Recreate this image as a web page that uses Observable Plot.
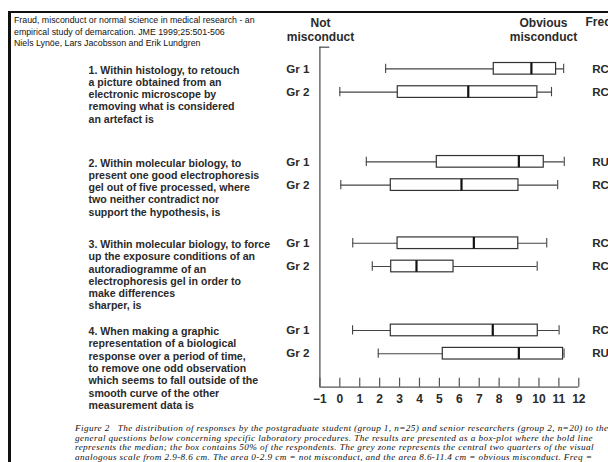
<!DOCTYPE html>
<html>
<head>
<meta charset="utf-8">
<script src="https://cdn.jsdelivr.net/npm/d3@7"></script>
<script src="https://cdn.jsdelivr.net/npm/@observablehq/plot@0.6"></script>
<style>
  html, body { margin: 0; padding: 0; background: #fff; }
  #page { position: relative; width: 608px; height: 462px; overflow: hidden; background: #fff; }
  #topline { position: absolute; left: 9px; top: 11px; width: 600px; height: 2px; background: #111; }
  #leftbar { position: absolute; left: 8px; top: 11px; width: 3px; height: 460px; background: #111; }
  #header { position: absolute; left: 14px; top: 15px; font-family: "Liberation Sans", Arial, sans-serif; font-size: 8.8px; line-height: 11.7px; color: #111; white-space: nowrap; }
  #chart { position: absolute; left: 0; top: 0; }
  #caption { position: absolute; left: 75px; top: 424px; width: 620px; font-family: "Liberation Serif", "Times New Roman", serif; font-style: italic; font-size: 9.2px; line-height: 9.5px; letter-spacing: 0.4px; color: #111; white-space: nowrap; }
</style>
</head>
<body>
<div id="page">
  <div id="topline"></div>
  <div id="leftbar"></div>
  <div id="header">Fraud, misconduct or normal science in medical research - an<br>empirical study of demarcation. JME 1999;25:501-506<br>Niels Lynöe, Lars Jacobsson and Erik Lundgren</div>
  <div id="chart"></div>
  <div id="caption">Figure 2&nbsp;&nbsp;&nbsp;The distribution of responses by the postgraduate student (group 1, n=25) and senior researchers (group 2, n=20) to the<br>general questions below concerning specific laboratory procedures. The results are presented as a box-plot where the bold line<br>represents the median; the box contains 50% of the respondents. The grey zone represents the central two quarters of the visual<br>analogous scale from 2.9-8.6 cm. The area 0-2.9 cm = not misconduct, and the area 8.6-11.4 cm = obvious misconduct. Freq =<br>frequency; RC = rather common and RU = rather uncommon.</div>
</div>
<script>
// ---------- data ----------
const questionNumbers = [1, 2, 3, 4];
const questionTexts = [
  "1. Within histology, to retouch\na picture obtained from an\nelectronic microscope by\nremoving what is considered\nan artefact is",
  "2. Within molecular biology, to\npresent one good electrophoresis\ngel out of five processed, where\ntwo neither contradict nor\nsupport the hypothesis, is",
  "3. Within molecular biology, to force\nup the exposure conditions of an\nautoradiogramme of an\nelectrophoresis gel in order to\nmake differences\nsharper, is",
  "4. When making a graphic\nrepresentation of a biological\nresponse over a period of time,\nto remove one odd observation\nwhich seems to fall outside of the\nsmooth curve of the other\nmeasurement data is"
];
const rowQuestion = [1, 1, 2, 2, 3, 3, 4, 4];
const rowGroup = ["Gr 1", "Gr 2", "Gr 1", "Gr 2", "Gr 1", "Gr 2", "Gr 1", "Gr 2"];
const whiskerLow  = [2.3, 0.0, 1.33, 0.05, 0.65, 1.63, 0.64, 1.93];
const quartile1   = [7.73, 2.91, 4.87, 2.56, 2.90, 2.58, 2.56, 5.17];
const medians     = [9.62, 6.45, 8.99, 6.11, 6.73, 3.85, 7.68, 8.99];
const quartile3   = [10.86, 9.92, 10.24, 8.97, 8.96, 5.71, 9.94, 11.21];
const whiskerHigh = [11.24, 10.63, 11.27, 10.94, 10.39, 9.91, 11.01, 11.26];
const frequency   = ["RC", "RC", "RU", "RC", "RC", "RC", "RC", "RU"];
const xTickValues = [-1, 0, 1, 2, 3, 4, 5, 6, 7, 8, 9, 10, 11, 12];

// ---------- layout (not data) ----------
const questionRow = {1: 0, 2: 4, 3: 7.5, 4: 11.25}; // vertical row units per question block
const yDomain = [-0.93, 13.69];
const rowOf = (q, g) => questionRow[q] + (g === "Gr 2" ? 1 : 0);

const rows = rowQuestion.map((q, i) => ({
  q, g: rowGroup[i], r: rowOf(q, rowGroup[i]),
  lo: whiskerLow[i], q1: quartile1[i], med: medians[i], q3: quartile3[i], hi: whiskerHigh[i],
  freq: frequency[i]
}));
const qs = questionNumbers.map((q, i) => ({q, text: questionTexts[i], r: questionRow[q]}));

const FONT = "Liberation Sans, Arial, sans-serif";
const ink = "#2a2a2a";

const chart = Plot.plot({
  width: 608,
  height: 415,
  marginTop: 46.7,
  marginBottom: 28.3,
  marginLeft: 319.4,
  marginRight: 29.7,
  style: {fontFamily: FONT, background: "transparent", overflow: "visible"},
  x: {domain: [-1, 12]},
  y: {domain: yDomain, reverse: true, axis: null},
  marks: [
    // axes lines
    Plot.ruleX([-1], {stroke: "#555", strokeWidth: 1.3}),
    Plot.ruleY([yDomain[1]], {x1: -1, x2: 12, stroke: "#555", strokeWidth: 1.3}),
    Plot.ruleY([yDomain[0]], {x1: -1, x2: -0.5, stroke: "#555", strokeWidth: 1.3}),
    Plot.axisX({
      ticks: xTickValues,
      tickSize: -9,
      tickPadding: 16,
      tickFormat: d => d < 0 ? "\u2212" + Math.abs(d) : String(d),
      label: null,
      fontSize: 12,
      fontWeight: "bold",
      fill: ink,
      stroke: "#555",
      strokeWidth: 1.2
    }),
    // whiskers
    Plot.ruleY(rows, {y: "r", x1: "lo", x2: "hi", stroke: "#444", strokeWidth: 1.1}),
    Plot.ruleX(rows, {x: "lo", y1: d => d.r - 0.2, y2: d => d.r + 0.2, stroke: "#444", strokeWidth: 1.1}),
    Plot.ruleX(rows, {x: "hi", y1: d => d.r - 0.2, y2: d => d.r + 0.2, stroke: "#444", strokeWidth: 1.1}),
    // boxes
    Plot.rect(rows, {x1: "q1", x2: "q3", y1: d => d.r - 0.25, y2: d => d.r + 0.25, fill: "white", stroke: "#333", strokeWidth: 1.2}),
    // medians
    Plot.ruleX(rows, {x: "med", y1: d => d.r - 0.25, y2: d => d.r + 0.25, stroke: "#111", strokeWidth: 2.2}),
    // group labels
    Plot.text(rows, {y: "r", text: "g", frameAnchor: "left", textAnchor: "end", dx: -10.4, lineAnchor: "middle", fontSize: 11.6, fontWeight: "bold", fill: ink}),
    // frequency labels
    Plot.text(rows, {y: "r", text: "freq", frameAnchor: "right", textAnchor: "start", dx: 13.4, lineAnchor: "middle", fontSize: 11.6, fontWeight: "bold", fill: ink}),
    // question texts
    Plot.text(qs, {y: "r", text: "text", frameAnchor: "left", textAnchor: "start", dx: -231.4, dy: -4, lineAnchor: "top", lineHeight: 1.16, fontSize: 10.6, fontWeight: "bold", fill: ink}),
    // headers
    Plot.text(["Not\nmisconduct"], {frameAnchor: "top-left", textAnchor: "middle", dx: 0.6, dy: -30.2, lineAnchor: "top", lineHeight: 1.19, fontSize: 12, fontWeight: "bold", fill: ink}),
    Plot.text(["Obvious\nmisconduct"], {frameAnchor: "top-right", textAnchor: "middle", dx: -35.3, dy: -30.2, lineAnchor: "top", lineHeight: 1.19, fontSize: 12, fontWeight: "bold", fill: ink}),
    Plot.text(["Freq"], {frameAnchor: "top-right", textAnchor: "start", dx: 6.7, dy: -30.2, lineAnchor: "top", fontSize: 12, fontWeight: "bold", fill: ink})
  ]
});
document.getElementById("chart").appendChild(chart);
</script>
</body>
</html>
